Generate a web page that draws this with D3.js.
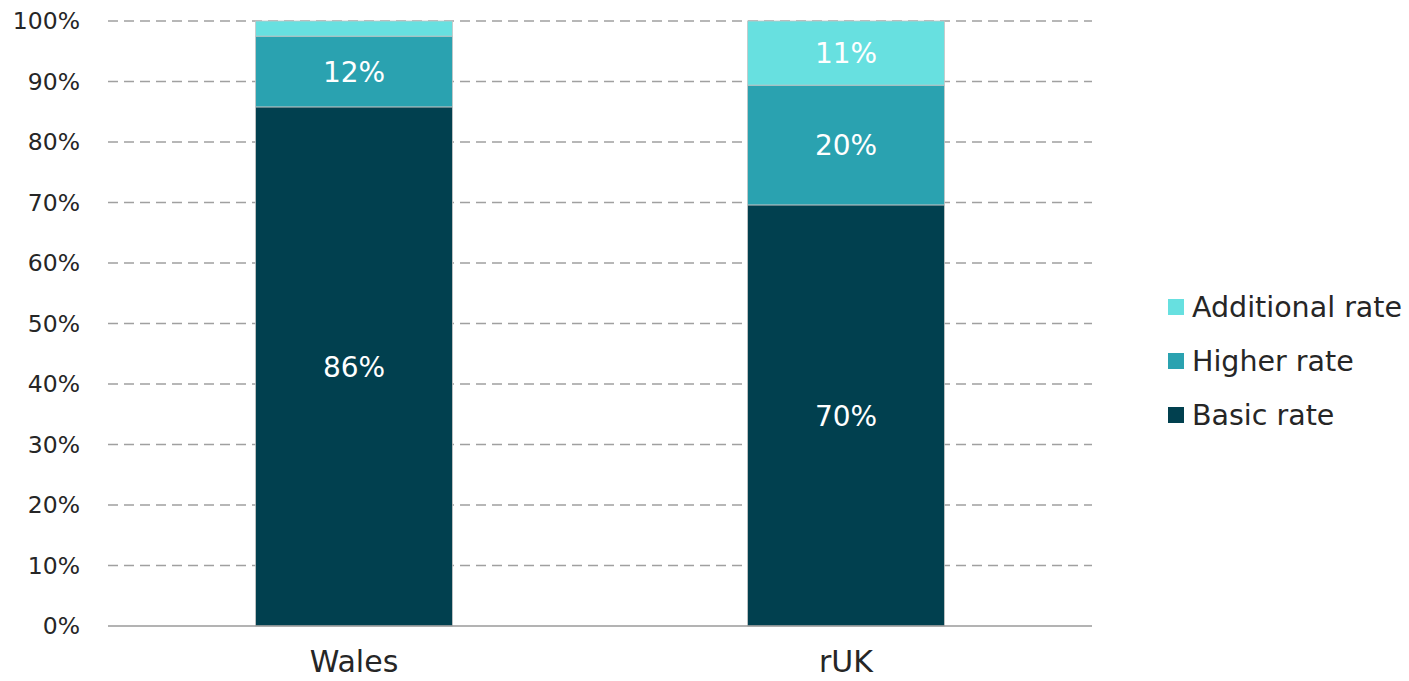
<!DOCTYPE html>
<html>
<head>
<meta charset="utf-8">
<script src="https://cdn.jsdelivr.net/npm/d3@7"></script>
<style>
  html, body { margin: 0; padding: 0; background: #fff; }
  svg { display: block; font-family: "DejaVu Sans", sans-serif; }
</style>
</head>
<body>
<svg id="chart" width="1409" height="681"></svg>
<script>
const categories = ["Wales", "rUK"];
const seriesNames = ["Basic rate", "Higher rate", "Additional rate"];
const basicRate = [85.8, 69.6];
const higherRate = [11.7, 19.8];
const additionalRate = [2.5, 10.6];
const yTicks = [0, 10, 20, 30, 40, 50, 60, 70, 80, 90, 100];

const colors = {
  "Basic rate": "#01404f",
  "Higher rate": "#2aa2b0",
  "Additional rate": "#67e0e0",
};

const margin = { left: 108, right: 317, top: 21, bottom: 55 };
const width = 1409;
const height = 681;

const svg = d3.select("#chart");

const rows = categories.map((c, i) => ({
  category: c,
  "Basic rate": basicRate[i],
  "Higher rate": higherRate[i],
  "Additional rate": additionalRate[i],
}));

const stacked = d3.stack().keys(seriesNames)(rows);

const x = d3
  .scaleBand()
  .domain(categories)
  .range([margin.left, width - margin.right])
  .paddingInner(0.6)
  .paddingOuter(0.3);

const y = d3
  .scaleLinear()
  .domain([0, 100])
  .range([height - margin.bottom, margin.top]);

// gridlines
svg
  .append("g")
  .selectAll("line")
  .data(yTicks.filter((t) => t > 0))
  .join("line")
  .attr("x1", margin.left)
  .attr("x2", width - margin.right)
  .attr("y1", (d) => y(d))
  .attr("y2", (d) => y(d))
  .attr("stroke", "#a0a0a0")
  .attr("stroke-width", 1.3)
  .attr("stroke-dasharray", "10,6");

// bars
const layer = svg
  .append("g")
  .selectAll("g")
  .data(stacked)
  .join("g")
  .attr("fill", (d) => colors[d.key]);

layer
  .selectAll("rect")
  .data((d) => d)
  .join("rect")
  .attr("x", (d) => x(d.data.category))
  .attr("width", x.bandwidth())
  .attr("y", (d) => y(d[1]))
  .attr("height", (d) => y(d[0]) - y(d[1]))
  .attr("stroke", "#c4c4c4")
  .attr("stroke-width", 0.8);

// value labels
layer
  .selectAll("text")
  .data((d) => d.filter((v) => v[1] - v[0] >= 5))
  .join("text")
  .attr("x", (d) => x(d.data.category) + x.bandwidth() / 2)
  .attr("y", (d) => (y(d[0]) + y(d[1])) / 2)
  .attr("dy", "0.36em")
  .attr("text-anchor", "middle")
  .attr("fill", "#fff")
  .attr("font-size", 28)
  .text((d) => d3.format(".0f")(d[1] - d[0]) + "%");

// baseline
svg
  .append("line")
  .attr("x1", margin.left)
  .attr("x2", width - margin.right)
  .attr("y1", y(0))
  .attr("y2", y(0))
  .attr("stroke", "#9a9a9a")
  .attr("stroke-width", 1.5);

// y axis labels
svg
  .append("g")
  .selectAll("text")
  .data(yTicks)
  .join("text")
  .attr("x", 80)
  .attr("y", (d) => y(d))
  .attr("dy", "0.36em")
  .attr("text-anchor", "end")
  .attr("fill", "#262626")
  .attr("font-size", 23.5)
  .text((d) => d + "%");

// x axis labels
svg
  .append("g")
  .selectAll("text")
  .data(categories)
  .join("text")
  .attr("x", (d) => x(d) + x.bandwidth() / 2)
  .attr("y", 672)
  .attr("text-anchor", "middle")
  .attr("fill", "#262626")
  .attr("font-size", 30)
  .text((d) => d);

// legend
const legendItems = seriesNames.slice().reverse();
const legend = svg
  .append("g")
  .selectAll("g")
  .data(legendItems)
  .join("g")
  .attr("transform", (d, i) => `translate(1168, ${307 + i * 54})`);

legend
  .append("rect")
  .attr("x", 0)
  .attr("y", -8)
  .attr("width", 16)
  .attr("height", 16)
  .attr("fill", (d) => colors[d]);

legend
  .append("text")
  .attr("x", 24)
  .attr("dy", "0.36em")
  .attr("fill", "#262626")
  .attr("font-size", 28.5)
  .text((d) => d);
</script>
</body>
</html>
